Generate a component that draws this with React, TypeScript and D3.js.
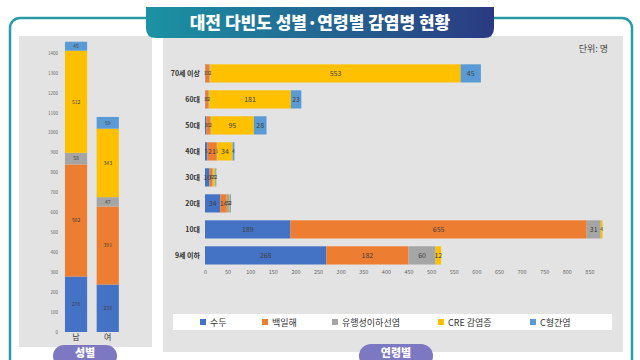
import React, { useEffect, useRef } from 'react';
import * as d3 from 'd3';

// 감염병 종류 / 색상
const diseases = ['수두', '백일해', '유행성이하선염', 'CRE 감염증', 'C형간염'];
const colors = ['#4472C4', '#ED7D31', '#A5A5A5', '#FFC000', '#5B9BD5'];

// 성별
const sexes = ['남', '여'];
const sexChickenpox = [278, 238];
const sexPertussis = [562, 391];
const sexMumps = [58, 47];
const sexCre = [512, 343];
const sexHepC = [45, 59];
const sexTicks = d3.range(0, 1401, 100);

// 연령별
const ages = ['70세 이상', '60대', '50대', '40대', '30대', '20대', '10대', '9세 이하'];
const ageChickenpox = [1, 1, 3, 5, 10, 34, 189, 268];
const agePertussis = [9, 6, 8, 21, 6, 14, 655, 182];
const ageMumps = [2, 2, 2, 1, 2, 5, 31, 60];
const ageCre = [553, 181, 95, 34, 5, 2, 4, 12];
const ageHepC = [45, 23, 28, 4, 2, 2, 0, 0];
const ageTicks = d3.range(0, 851, 50);

const FONT = '"Noto Sans CJK KR", "Noto Sans", sans-serif';

const toRows = (cats: string[], series: number[][]) =>
  cats.map((c, i) => {
    const row: any = { cat: c };
    diseases.forEach((d, j) => (row[d] = series[j][i]));
    return row;
  });

const App = () => {
  const sexAxisRef = useRef<SVGGElement>(null);
  const ageAxisRef = useRef<SVGGElement>(null);

  // 성별 차트 스케일
  const sx = d3.scaleBand().domain(sexes).range([60.2, 123.6]).paddingInner(0.3).paddingOuter(0.15);
  const sy = d3.scaleLinear().domain([0, 1400]).range([332, 52.7]);
  const sexStack = d3.stack().keys(diseases)(
    toRows(sexes, [sexChickenpox, sexPertussis, sexMumps, sexCre, sexHepC])
  );

  // 연령별 차트 스케일
  const ax = d3.scaleLinear().domain([0, 880]).range([205, 603]);
  const ay = d3.scaleBand().domain(ages).range([60.4, 268.4]).paddingInner(0.3).paddingOuter(0.15);
  const ageStack = d3.stack().keys(diseases)(
    toRows(ages, [ageChickenpox, agePertussis, ageMumps, ageCre, ageHepC])
  );

  useEffect(() => {
    const g1 = d3.select(sexAxisRef.current);
    g1.selectAll('*').remove();
    g1.call(d3.axisLeft(sy).tickValues(sexTicks).tickSize(0).tickPadding(4).tickFormat(d3.format('d')));
    g1.select('.domain').remove();
    g1.selectAll('text').attr('font-size', 4.5).attr('fill', '#666').attr('font-family', FONT);

    const g2 = d3.select(ageAxisRef.current);
    g2.selectAll('*').remove();
    g2.call(d3.axisBottom(ax).tickValues(ageTicks).tickSize(0).tickPadding(0).tickFormat(d3.format('d')));
    g2.select('.domain').remove();
    g2.selectAll('text').attr('font-size', 5.5).attr('fill', '#666').attr('font-family', FONT);
  }, []);

  const legendX = [200, 262, 332, 438, 530];

  return (
    <svg width={640} height={360} style={{ position: 'absolute', left: 0, top: 0 }} fontFamily={FONT}>
      <defs>
        <linearGradient id="banner" x1="0" x2="1" y1="0" y2="0">
          <stop offset="0%" stopColor="#1b93a3" />
          <stop offset="100%" stopColor="#2a3a82" />
        </linearGradient>
      </defs>
      <rect width={640} height={360} fill="#fff" />
      {/* 외곽 테두리 */}
      <rect x={10} y={18} width={622} height={370} rx={10} fill="none" stroke="#2a9aa8" strokeWidth={2.5} />

      {/* 회색 패널 */}
      <rect x={19} y={36} width={133} height={311} fill="#e3e3e3" />
      <rect x={163} y={36} width={460} height={316} fill="#e3e3e3" />

      {/* 제목 배너 */}
      <path d="M146,7 H494 V28 Q494,38 484,38 H156 Q146,38 146,28 Z" fill="url(#banner)" />
      <text x={320} y={29} textAnchor="middle" fill="#fff" fontSize={17} fontWeight={900}>
        대전 다빈도 성별·연령별 감염병 현황
      </text>

      {/* 성별 차트 */}
      <g ref={sexAxisRef} transform="translate(62,0)" />
      {sexStack.map((s, i) => (
        <g key={s.key} fill={colors[i]}>
          {s.map((d: any) => (
            <rect key={d.data.cat} x={sx(d.data.cat)} y={sy(d[1])} width={sx.bandwidth()} height={sy(d[0]) - sy(d[1])} />
          ))}
        </g>
      ))}
      {sexStack.map((s) =>
        s.map((d: any) => (
          <text key={s.key + d.data.cat} x={sx(d.data.cat)! + sx.bandwidth() / 2} y={(sy(d[0]) + sy(d[1])) / 2 + 1.8}
            textAnchor="middle" fontSize={5} fill="#404040">
            {d[1] - d[0]}
          </text>
        ))
      )}
      {sexes.map((c) => (
        <text key={c} x={sx(c)! + sx.bandwidth() / 2} y={340} textAnchor="middle" fontSize={8} fill="#333">
          {c}
        </text>
      ))}

      {/* 연령별 차트 */}
      <text x={608} y={52} textAnchor="end" fontSize={9} fill="#444">단위: 명</text>
      {ageStack.map((s, i) => (
        <g key={s.key} fill={colors[i]}>
          {s.map((d: any) => (
            <rect key={d.data.cat} x={ax(d[0])} y={ay(d.data.cat)} width={ax(d[1]) - ax(d[0])} height={ay.bandwidth()} />
          ))}
        </g>
      ))}
      {ageStack.map((s) =>
        s.map((d: any) => {
          const v = d[1] - d[0];
          if (v <= 0) return null;
          return (
            <text key={s.key + d.data.cat} x={(ax(d[0]) + ax(d[1])) / 2} y={ay(d.data.cat)! + ay.bandwidth() / 2 + (v < 10 ? 1.8 : 2.4)}
              textAnchor="middle" fontSize={v < 10 ? 5 : 7} fill="#404040">
              {v}
            </text>
          );
        })
      )}
      {ages.map((c) => (
        <text key={c} x={200} y={ay(c)! + ay.bandwidth() / 2 + 2.5} textAnchor="end" fontSize={7} fontWeight={700} fill="#333">
          {c}
        </text>
      ))}
      <g ref={ageAxisRef} transform="translate(0,270)" />

      {/* 범례 */}
      <rect x={173} y={314} width={439} height={16} fill="#fff" />
      {diseases.map((d, i) => (
        <g key={d}>
          <rect x={legendX[i]} y={319} width={6} height={6} fill={colors[i]} />
          <text x={legendX[i] + 10} y={325.5} fontSize={9} fill="#333">{d}</text>
        </g>
      ))}

      {/* 하단 라벨 */}
      <rect x={53} y={345} width={64} height={22} rx={11} fill="#7d78c2" />
      <text x={85} y={356.5} textAnchor="middle" fill="#fff" fontSize={11} fontWeight={900}>성별</text>
      <rect x={359} y={344} width={74} height={24} rx={12} fill="#7d78c2" />
      <text x={396} y={356.5} textAnchor="middle" fill="#fff" fontSize={11} fontWeight={900}>연령별</text>
    </svg>
  );
};

export default App;
